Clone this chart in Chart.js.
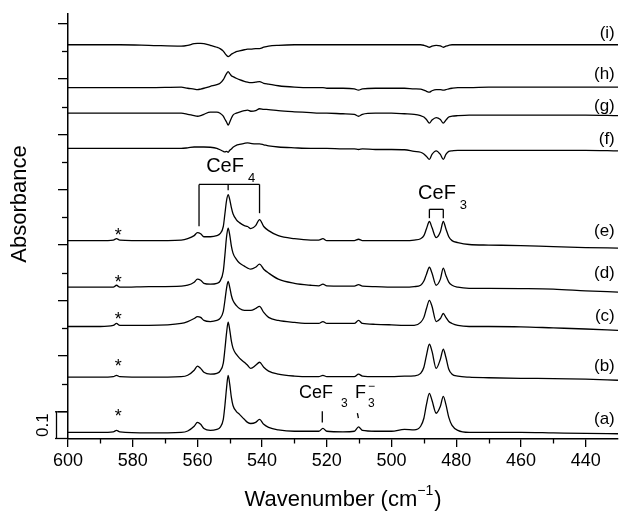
<!DOCTYPE html>
<html>
<head>
<meta charset="utf-8">
<script src="https://cdn.jsdelivr.net/npm/chart.js@4.4.1/dist/chart.umd.min.js"></script>
<style>
  html, body { margin: 0; padding: 0; background: #fff; }
</style>
</head>
<body>
<canvas id="chartIR" width="619" height="511"></canvas>
<script>
// wavenumber grid (cm-1), shared by all spectra
var wavenumbers = [600, 590, 586, 585, 584, 575, 565, 563, 561, 560,
  559, 558, 556, 554, 553, 552, 551.5, 551, 550.5, 550,
  549.5, 549, 548, 547, 545.5, 544.5, 543.5, 542, 540.8, 539.5,
  538, 535, 530, 525, 522.5, 521.2, 520, 515, 511.5, 510.2,
  509, 505, 500, 496, 493, 491, 490, 489.2, 488.3, 487.5,
  486.2, 484.9, 484.0, 483.2, 482.3, 481.3, 479.5, 476, 470, 460,
  450, 440, 430];

// absorbance of each spectrum (before stacking)
var traceA = [0, 0, 0.002, 0.007, 0.002, -0.002, 0, 0.005, 0.022, 0.036,
  0.029, 0.014, 0.007, 0.011, 0.018, 0.047, 0.097, 0.159, 0.206, 0.173,
  0.126, 0.097, 0.076, 0.065, 0.047, 0.036, 0.032, 0.036, 0.047, 0.029,
  0.018, 0.009, 0.004, 0.004, 0.004, 0.014, 0.004, 0.002, 0.004, 0.020,
  0.007, 0.004, 0.004, 0.011, 0.009, 0.022, 0.051, 0.101, 0.141, 0.116,
  0.069, 0.094, 0.130, 0.101, 0.054, 0.025, 0.007, 0, 0, 0,
  -0.002, -0.004, -0.005];
var traceB = [0, 0, 0.002, 0.007, 0.002, 0, 0.002, 0.007, 0.025, 0.040,
  0.032, 0.018, 0.011, 0.014, 0.022, 0.051, 0.101, 0.159, 0.199, 0.170,
  0.130, 0.105, 0.083, 0.069, 0.054, 0.043, 0.032, 0.043, 0.054, 0.036,
  0.022, 0.011, 0.004, 0.002, 0.002, 0.007, 0.002, 0.002, 0.002, 0.011,
  0.004, 0.002, 0.002, 0.004, 0.005, 0.014, 0.036, 0.079, 0.119, 0.094,
  0.032, 0.065, 0.101, 0.072, 0.029, 0.011, 0.004, 0, -0.002, -0.004,
  -0.005, -0.007, -0.011];
var traceC = [-0.004, -0.004, 0, 0.007, 0, 0, 0.007, 0.014, 0.025, 0.032,
  0.029, 0.018, 0.014, 0.018, 0.025, 0.051, 0.090, 0.134, 0.159, 0.137,
  0.108, 0.090, 0.072, 0.061, 0.054, 0.054, 0.054, 0.061, 0.069, 0.047,
  0.029, 0.018, 0.011, 0.007, 0.007, 0.014, 0.007, 0.007, 0.007, 0.018,
  0.007, 0.004, 0.002, 0, 0, 0.011, 0.029, 0.061, 0.090, 0.069,
  0.014, 0.025, 0.043, 0.029, 0.014, 0.007, 0, -0.004, -0.004, -0.005,
  -0.009, -0.013, -0.018];
var traceD = [0, 0, 0, 0.007, 0, 0.002, 0.004, 0.007, 0.018, 0.029,
  0.025, 0.014, 0.011, 0.014, 0.022, 0.058, 0.116, 0.181, 0.213, 0.188,
  0.148, 0.123, 0.101, 0.087, 0.076, 0.069, 0.065, 0.072, 0.083, 0.065,
  0.051, 0.029, 0.014, 0.007, 0.005, 0.011, 0.005, 0.004, 0.004, 0.009,
  0.004, 0.002, 0, 0, 0.002, 0.007, 0.022, 0.047, 0.072, 0.051,
  0.007, 0.029, 0.069, 0.043, 0.018, 0.007, 0, -0.004, -0.004, -0.005,
  -0.007, -0.013, -0.018];
var traceE = [0, 0, 0.002, 0.007, 0.002, 0, 0.002, 0.007, 0.018, 0.029,
  0.025, 0.014, 0.014, 0.018, 0.025, 0.051, 0.097, 0.144, 0.166, 0.148,
  0.119, 0.097, 0.076, 0.065, 0.054, 0.051, 0.043, 0.054, 0.076, 0.051,
  0.036, 0.018, 0.007, 0.002, 0.002, 0.007, 0, 0, 0, 0.005,
  0, 0, 0, 0, 0.002, 0.007, 0.018, 0.043, 0.069, 0.047,
  0.011, 0.032, 0.069, 0.043, 0.014, 0, -0.007, -0.014, -0.016, -0.018,
  -0.022, -0.025, -0.027];
var traceF = [0, 0, 0, 0, 0, 0, 0, 0.002, 0.005, 0.005,
  0.005, 0.005, 0.004, 0, -0.005, -0.011, -0.013, -0.011, -0.014, -0.007,
  -0.002, 0.004, 0.011, 0.014, 0.018, 0.020, 0.018, 0.016, 0.016, 0.013,
  0.009, 0.005, 0.002, 0, 0, 0, 0, -0.002, -0.002, -0.004,
  -0.002, -0.004, -0.004, -0.005, -0.011, -0.014, -0.020, -0.029, -0.040, -0.022,
  -0.009, -0.022, -0.040, -0.022, -0.011, -0.009, -0.007, -0.007, -0.007, -0.007,
  -0.007, -0.007, -0.009];
var traceG = [0, 0, 0, 0, 0, 0, 0, -0.004, -0.009, -0.011,
  -0.009, -0.004, 0.004, 0.004, 0, -0.011, -0.022, -0.032, -0.043, -0.032,
  -0.018, -0.007, 0, 0.004, 0.009, 0.011, 0.007, 0.009, 0.016, 0.014,
  0.013, 0.009, 0.005, 0.002, 0, 0, 0, -0.002, -0.004, -0.011,
  -0.004, 0, 0, -0.002, -0.004, -0.009, -0.014, -0.023, -0.036, -0.025,
  -0.016, -0.023, -0.036, -0.025, -0.014, -0.011, -0.009, -0.007, -0.007, -0.007,
  -0.007, -0.007, -0.009];
var traceH = [0, 0, 0, 0, 0, 0, 0.002, -0.002, -0.005, -0.007,
  -0.005, -0.002, 0.005, 0.011, 0.016, 0.029, 0.040, 0.051, 0.058, 0.051,
  0.043, 0.040, 0.034, 0.029, 0.023, 0.020, 0.018, 0.020, 0.022, 0.016,
  0.013, 0.007, 0.002, 0, 0, 0, -0.002, -0.002, -0.004, -0.009,
  -0.004, -0.002, -0.002, -0.002, -0.004, -0.005, -0.009, -0.013, -0.016, -0.011,
  -0.007, -0.007, -0.009, -0.007, -0.004, -0.002, 0, 0, 0.002, 0.002,
  0.002, 0.002, 0.002];
var traceI = [0, 0, 0, 0, 0, -0.002, -0.005, -0.002, 0.004, 0.005,
  0.005, 0.004, -0.002, -0.009, -0.014, -0.023, -0.031, -0.038, -0.043, -0.040,
  -0.034, -0.031, -0.025, -0.022, -0.018, -0.016, -0.016, -0.014, -0.014, -0.009,
  -0.005, -0.002, 0, 0, 0, 0, 0, 0, 0, 0,
  0, 0, 0, 0, 0, 0, -0.002, -0.005, -0.009, -0.005,
  -0.002, -0.004, -0.009, -0.005, -0.002, 0, 0, 0, 0, 0,
  0, 0, 0];

var traceNames = ["(a)", "(b)", "(c)", "(d)", "(e)", "(f)", "(g)", "(h)", "(i)"];
var traceOffsets = [-0.076, 0.123, 0.310, 0.448, 0.616, 0.949, 1.076, 1.168, 1.323];
var traceLabelY = [-0.025, 0.166, 0.347, 0.502, 0.653, 0.986, 1.105, 1.220, 1.368];
var starY = [-0.008, 0.174, 0.345, 0.476, 0.647];

var xTickLabels = [600, 580, 560, 540, 520, 500, 480, 460, 440];
var xMinorTicks = [590, 570, 550, 530, 510, 490, 470, 450];
var yMajorTicks = [0, 0.2, 0.4, 0.6, 0.8, 1.0, 1.2, 1.4];
var yMinorTicks = [0.1, 0.3, 0.5, 0.7, 0.9, 1.1, 1.3];

var allTraces = [traceA, traceB, traceC, traceD, traceE, traceF, traceG, traceH, traceI];

var FONT = "'Liberation Sans', Arial, Helvetica, sans-serif";

var chemLabels = [
  { text: "CeF", sub: "4", wn: 557.3, y: 0.884, size: 20, gap: 4 },
  { text: "CeF", sub: "3", wn: 491.8, y: 0.787, size: 20, gap: 4 },
  { text: "CeF", sub: "3", wn: 528.6, y: 0.065, size: 18, gap: 8 },
  { text: "F", sub: "3", sup: "\u2212", wn: 511.3, y: 0.065, size: 18, gap: 2 }
];

function buildDatasets(){
  var sets = [];
  for (var k = 0; k < allTraces.length; k++) {
    var pts = [];
    for (var i = 0; i < wavenumbers.length; i++) {
      pts.push({ x: wavenumbers[i], y: allTraces[k][i] + traceOffsets[k] });
    }
    sets.push({
      label: traceNames[k],
      data: pts,
      borderColor: "#000",
      borderWidth: 1.3,
      pointRadius: 0,
      fill: false,
      cubicInterpolationMode: "monotone"
    });
  }
  return sets;
}

function line(ctx, x1, y1, x2, y2){
  ctx.beginPath();
  ctx.moveTo(x1, y1);
  ctx.lineTo(x2, y2);
  ctx.stroke();
}

function drawChem(ctx, xs, ys, l){
  var x = xs.getPixelForValue(l.wn), y = ys.getPixelForValue(l.y);
  ctx.font = l.size + "px " + FONT;
  ctx.textAlign = "left";
  ctx.textBaseline = "middle";
  ctx.fillText(l.text, x, y);
  var w = ctx.measureText(l.text).width + l.gap;
  ctx.font = Math.round(l.size * 0.65) + "px " + FONT;
  if (l.sub) ctx.fillText(l.sub, x + w, y + l.size * 0.6);
  if (l.sup) ctx.fillText(l.sup, x + w, y - l.size * 0.35);
}

// minor ticks, annotations and axis titles
var decorations = {
  id: "decorations",
  afterDraw: function(chart){
    var ctx = chart.ctx, xs = chart.scales.x, ys = chart.scales.y;
    var area = chart.chartArea;
    ctx.save();
    ctx.strokeStyle = "#000";
    ctx.fillStyle = "#000";
    ctx.lineWidth = 1.3;

    xMinorTicks.forEach(function(v){
      var px = Math.round(xs.getPixelForValue(v)) + 0.5;
      line(ctx, px, area.bottom, px, area.bottom + 4.5);
    });
    yMinorTicks.forEach(function(v){
      var py = Math.round(ys.getPixelForValue(v)) + 0.5;
      line(ctx, area.left - 6, py, area.left, py);
    });

    // scale bar 0.1
    var b0 = ys.getPixelForValue(-0.1), b1 = ys.getPixelForValue(0);
    line(ctx, 56.5, b0, 56.5, b1);
    line(ctx, 55, b1 + 0.5, area.left, b1 + 0.5);
    line(ctx, 55, b0 - 0.5, area.left, b0 - 0.5);
    ctx.save();
    ctx.translate(43, (b0 + b1) / 2);
    ctx.rotate(-Math.PI / 2);
    ctx.font = "17px " + FONT;
    ctx.textAlign = "center";
    ctx.textBaseline = "middle";
    ctx.fillText("0.1", 0, 0);
    ctx.restore();

    // CeF4 bracket
    var top4 = ys.getPixelForValue(0.819);
    var bx = [559.5, 550.5, 540.8].map(function(v){ return xs.getPixelForValue(v); });
    line(ctx, bx[0], top4, bx[2], top4);
    line(ctx, bx[0], top4, bx[0], ys.getPixelForValue(0.668));
    line(ctx, bx[1], top4, bx[1], ys.getPixelForValue(0.798));
    line(ctx, bx[2], top4, bx[2], ys.getPixelForValue(0.715));

    // CeF3 bracket
    var top3 = ys.getPixelForValue(0.729), bot3 = ys.getPixelForValue(0.697);
    var cx1 = xs.getPixelForValue(488.3), cx2 = xs.getPixelForValue(484.0);
    line(ctx, cx1, top3, cx2, top3);
    line(ctx, cx1, top3, cx1, bot3);
    line(ctx, cx2, top3, cx2, bot3);

    // small markers under the lower labels
    var m1 = xs.getPixelForValue(521.4);
    line(ctx, m1, ys.getPixelForValue(0), m1, ys.getPixelForValue(-0.040));
    var m2 = xs.getPixelForValue(510.4);
    line(ctx, m2 - 0.5, ys.getPixelForValue(-0.007), m2 + 0.5, ys.getPixelForValue(-0.025));

    chemLabels.forEach(function(l){ drawChem(ctx, xs, ys, l); });

    // asterisks
    ctx.font = "18px " + FONT;
    ctx.textAlign = "center";
    ctx.textBaseline = "middle";
    starY.forEach(function(v){
      ctx.fillText("*", xs.getPixelForValue(584.5), ys.getPixelForValue(v) + 4);
    });

    // trace labels
    ctx.font = "17px " + FONT;
    ctx.textAlign = "right";
    traceNames.forEach(function(n, k){
      ctx.fillText(n, xs.getPixelForValue(431), ys.getPixelForValue(traceLabelY[k]) + 1);
    });

    // y title
    ctx.save();
    ctx.translate(20, 204);
    ctx.rotate(-Math.PI / 2);
    ctx.font = "22px " + FONT;
    ctx.textAlign = "center";
    ctx.fillText("Absorbance", 0, 0);
    ctx.restore();

    // x title with superscript
    var main = "Wavenumber (cm", sup = "\u22121", close = ")";
    ctx.font = "22px " + FONT;
    var w1 = ctx.measureText(main).width, w3 = ctx.measureText(close).width;
    ctx.font = "14px " + FONT;
    var w2 = ctx.measureText(sup).width + 1;
    var start = (area.left + area.right) / 2 - (w1 + w2 + w3) / 2;
    ctx.textAlign = "left";
    ctx.font = "22px " + FONT;
    ctx.fillText(main, start, 500);
    ctx.fillText(close, start + w1 + w2, 500);
    ctx.font = "14px " + FONT;
    ctx.fillText(sup, start + w1, 491);
    ctx.restore();
  }
};

function createSpectraChart(){
  var ctx = document.getElementById("chartIR").getContext("2d");
  var spectraChart = new Chart(ctx, {
    type: "line",
    data: { datasets: buildDatasets() },
    options: {
      responsive: false,
      animation: false,
      devicePixelRatio: 1,
      layout: { padding: { top: 14, right: 1, left: 0, bottom: 0 } },
      plugins: { legend: { display: false }, tooltip: { enabled: false } },
      scales: {
        x: {
          type: "linear",
          reverse: true,
          min: 430,
          max: 600,
          afterBuildTicks: function(s){ s.ticks = xTickLabels.map(function(v){ return { value: v }; }); },
          afterFit: function(s){ s.height = 72; },
          ticks: { color: "#000", font: { size: 18, family: FONT }, padding: 3, maxRotation: 0, autoSkip: false },
          grid: { drawOnChartArea: false, drawTicks: true, tickLength: 8, color: "#000", lineWidth: 1.3 },
          border: { display: true, color: "#000", width: 1.5 }
        },
        y: {
          type: "linear",
          min: -0.1,
          max: 1.434,
          afterBuildTicks: function(s){ s.ticks = yMajorTicks.map(function(v){ return { value: v }; }); },
          afterFit: function(s){ s.width = 68; },
          ticks: { display: false },
          grid: { drawOnChartArea: false, drawTicks: true, tickLength: 10, color: "#000", lineWidth: 1.3 },
          border: { display: true, color: "#000", width: 1.5 }
        }
      }
    },
    plugins: [decorations]
  });
}

createSpectraChart();
</script>
</body>
</html>
